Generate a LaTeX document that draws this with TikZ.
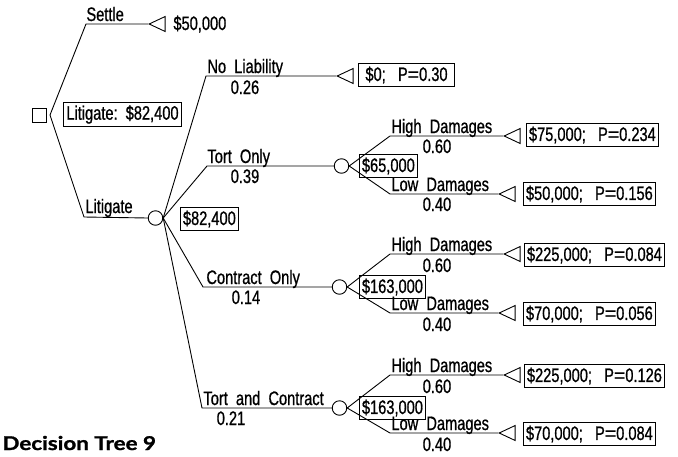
\documentclass[tikz,border=0pt]{standalone}
\usepackage{fontspec}
\setmainfont{Liberation Sans}[FakeStretch=0.75, FakeBold=0.8]
\newfontfamily\plainfont{Liberation Sans}[FakeBold=0.8]
\newfontfamily\titlefont{Lato}[FakeStretch=1.18, BoldFeatures={FakeBold=1.2}]
\newcommand{\weq}{{\plainfont=}}
\usetikzlibrary{shapes.geometric}

\begin{document}
\begin{tikzpicture}[x=1pt,y=-1pt, line width=0.9pt,
  every node/.style={font=\fontsize{19.5}{21}\selectfont, inner sep=0pt},
  lab/.style={anchor=base west},
  prob/.style={anchor=base},
  valbox/.style={draw, anchor=west, inner xsep=2.5pt, minimum height=23pt},
  decnode/.style={draw, rectangle, minimum size=14pt},
  chance/.style={draw, circle, minimum size=14.5pt},
  endnode/.style={draw, isosceles triangle, shape border rotate=180,
    isosceles triangle stretches, minimum width=15pt, minimum height=16pt,
    anchor=apex}
]
\useasboundingbox (0,0) rectangle (678,456);

% ---- root decision ----
\node[decnode] (dec) at (39,115) {};
\coordinate (dv) at (50,115);
\node[draw, inner xsep=3pt, minimum height=24pt] (lbox) at (122.5,114.5) {Litigate:\ \ \$82,400};

% settle branch
\coordinate (cS) at (86,24);
\node[endnode] (tS) at (148,24) {};
\draw (dv) -- (cS) -- (tS.apex);
\node[lab] (lS) at (86,21) {Settle};
\node[lab] (vS) at (173,30) {\$50,000};

% litigate branch
\coordinate (cL) at (84,217);
\node[chance] (ch0) at (155.5,218) {};
\draw (dv) -- (cL) -- (ch0.west);
\node[lab] (lL) at (85,213) {Litigate};
\node[valbox] (v0) at (180,219) {\$82,400};

% ---- no liability ----
\coordinate (cN) at (206,76);
\node[endnode] (tN) at (336,76) {};
\draw (ch0.east) -- (cN) -- (tN.apex);
\node[lab] (lN) at (207,73) {No\ \ Liability};
\node[prob] (pN) at (245,94) {0.26};
\node[valbox, inner xsep=7pt] (vN) at (358,75) {\$0;\ \ \ P\weq0.30};

% ---- tort only ----
\coordinate (cT) at (207,166);
\node[chance] (chT) at (341.5,166) {};
\draw (ch0.east) -- (cT) -- (chT.west);
\node[lab] (lT) at (207,163) {Tort\ \ Only};
\node[prob] (pT) at (245,183) {0.39};
\node[valbox] (vT) at (359,166) {\$65,000};

\coordinate (cTH) at (390,136);
\coordinate (cTL) at (390,194);
\node[endnode] (tTH) at (503,136) {};
\node[endnode] (tTL) at (498,194) {};
\draw (chT.east) -- (cTH) -- (tTH.apex);
\draw (chT.east) -- (cTL) -- (tTL.apex);
\node[lab] (lTH) at (391,133) {High\ \ Damages};
\node[prob] (pTH) at (437,153) {0.60};
\node[lab] (lTL) at (391,191) {Low\ \ Damages};
\node[prob] (pTL) at (437,211) {0.40};
\node[valbox] (vTH) at (526,135) {\$75,000;\ \ \ P\weq0.234};
\node[valbox] (vTL) at (523,194) {\$50,000;\ \ \ P\weq0.156};

% ---- contract only ----
\coordinate (cC) at (203,287);
\node[chance] (chC) at (339.5,287) {};
\draw (ch0.east) -- (cC) -- (chC.west);
\node[lab] (lC) at (206,284) {Contract\ \ Only};
\node[prob] (pC) at (246,304) {0.14};
\node[valbox] (vC) at (359,287) {\$163,000};

\coordinate (cCH) at (390,254);
\coordinate (cCL) at (390,313);
\node[endnode] (tCH) at (503,254) {};
\node[endnode] (tCL) at (498,313) {};
\draw (chC.east) -- (cCH) -- (tCH.apex);
\draw (chC.east) -- (cCL) -- (tCL.apex);
\node[lab] (lCH) at (391,251) {High\ \ Damages};
\node[prob] (pCH) at (437,272) {0.60};
\node[lab] (lCL) at (391,310) {Low\ \ Damages};
\node[prob] (pCL) at (437,331) {0.40};
\node[valbox] (vCH) at (524,255) {\$225,000;\ \ \ P\weq0.084};
\node[valbox] (vCL) at (523,314) {\$70,000;\ \ \ P\weq0.056};

% ---- tort and contract ----
\coordinate (cX) at (202,408);
\node[chance] (chX) at (339.5,408) {};
\draw (ch0.east) -- (cX) -- (chX.west);
\node[lab] (lX) at (203,405) {Tort\ \ and\ \ Contract};
\node[prob] (pX) at (231,425) {0.21};
\node[valbox] (vX) at (359,408) {\$163,000};

\coordinate (cXH) at (390,375);
\coordinate (cXL) at (390,433);
\node[endnode] (tXH) at (503,375) {};
\node[endnode] (tXL) at (498,433) {};
\draw (chX.east) -- (cXH) -- (tXH.apex);
\draw (chX.east) -- (cXL) -- (tXL.apex);
\node[lab] (lXH) at (391,372) {High\ \ Damages};
\node[prob] (pXH) at (437,393) {0.60};
\node[lab] (lXL) at (391,430) {Low\ \ Damages};
\node[prob] (pXL) at (437,451) {0.40};
\node[valbox] (vXH) at (524,376) {\$225,000;\ \ \ P\weq0.126};
\node[valbox] (vXL) at (523,434) {\$70,000;\ \ \ P\weq0.084};

% caption
\node[anchor=base west, font=\titlefont\bfseries\fontsize{19}{21}\selectfont] (cap) at (2,450) {Decision Tree 9};
\end{tikzpicture}
\end{document}
